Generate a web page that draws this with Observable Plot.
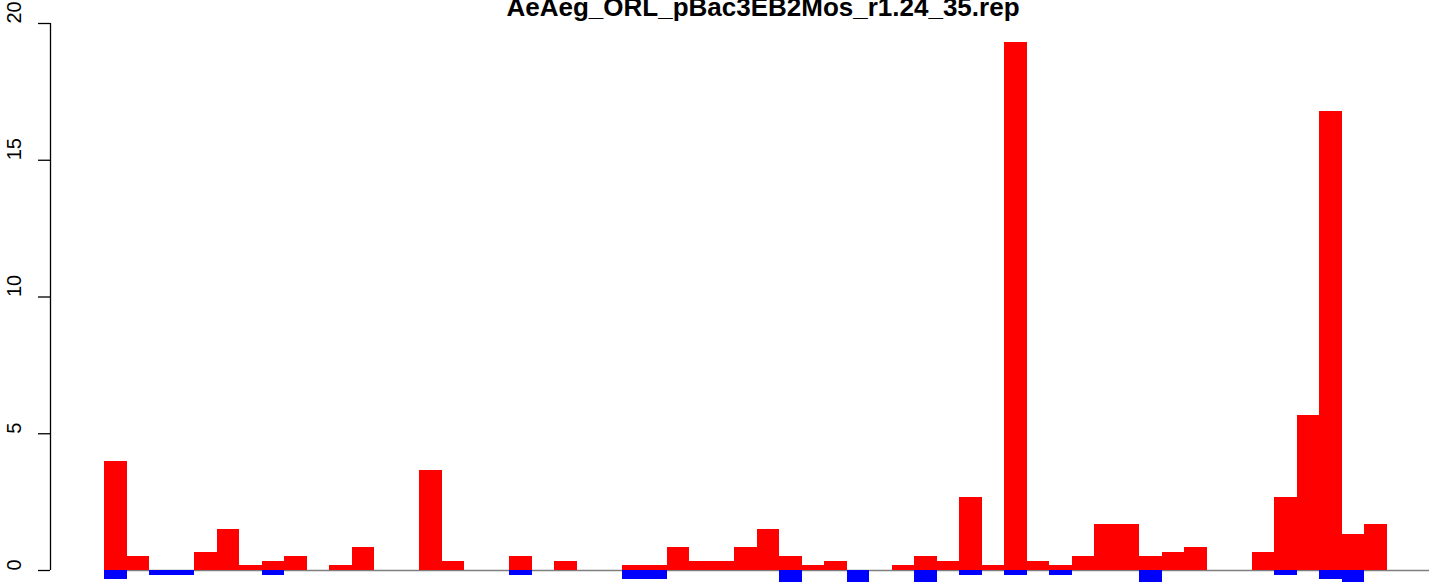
<!DOCTYPE html>
<html><head><meta charset="utf-8">
<script src="https://cdn.jsdelivr.net/npm/d3@7"></script>
<script src="https://cdn.jsdelivr.net/npm/@observablehq/plot@0.6"></script>
<style>body{margin:0;background:#fff} svg{display:block}</style>
</head><body><div id="chart"></div>
<script>
const title = "AeAeg_ORL_pBac3EB2Mos_r1.24_35.rep";
const positive = [4.0, 0.5, 0, 0, 0.67, 1.5, 0.17, 0.33, 0.5, 0,
  0.17, 0.83, 0, 0, 3.67, 0.33, 0, 0, 0.5, 0,
  0.33, 0, 0, 0.17, 0.17, 0.83, 0.33, 0.33, 0.83, 1.5,
  0.5, 0.17, 0.33, 0, 0, 0.17, 0.5, 0.33, 2.67, 0.17,
  19.3, 0.33, 0.17, 0.5, 1.67, 1.67, 0.5, 0.67, 0.83, 0,
  0, 0.67, 2.67, 5.67, 16.8, 1.33, 1.67];
const negative = [-0.33, 0, -0.17, -0.17, 0, 0, 0, -0.17, 0, 0,
  0, 0, 0, 0, 0, 0, 0, 0, -0.17, 0,
  0, 0, 0, -0.33, -0.33, 0, 0, 0, 0, 0,
  -0.5, 0, 0, -0.5, 0, 0, -0.5, 0, -0.17, 0,
  -0.17, 0, -0.17, 0, 0, 0, -0.5, 0, 0, 0,
  0, 0, -0.17, 0, -0.33, -0.5, 0];
const yTicks = [0, 5, 10, 15, 20];
const xlim = [-2.4, 59.4];

const bars = positive.map((v, i) => ({i, pos: v, neg: negative[i]}));

const chart = Plot.plot({
  width: 1429, height: 582,
  marginLeft: 50, marginTop: 0, marginRight: 0, marginBottom: 0,
  x: {type: "linear", domain: xlim, range: [50, 50 + (xlim[1] - xlim[0]) * 22.5], axis: null},
  y: {domain: [0, 20], range: [570, 23], axis: null},
  style: {background: "#fff", fontFamily: "'Liberation Sans', Arial, Helvetica, sans-serif", overflow: "visible"},
  marks: [
    Plot.ruleY([0], {x1: 0, x2: xlim[1], stroke: "#7f7f7f", strokeWidth: 1.6}),
    Plot.rectY(bars.filter(d => d.neg < 0), {x1: "i", x2: d => d.i + 1, y1: 0, y2: "neg", fill: "#0000ff", shapeRendering: "crispEdges"}),
    Plot.rectY(bars.filter(d => d.pos > 0), {x1: "i", x2: d => d.i + 1, y1: 0, y2: "pos", fill: "#ff0000", shapeRendering: "crispEdges"}),
    Plot.ruleX([xlim[0]], {y1: yTicks[0], y2: yTicks[yTicks.length - 1], stroke: "black", strokeWidth: 1.3}),
    Plot.axisY(yTicks, {anchor: "left", tickSize: 12, tickFormat: () => "", stroke: "black", strokeWidth: 1.3, strokeOpacity: 1}),
    Plot.text(yTicks, {y: d => d, frameAnchor: "left", dx: -36, rotate: -90, text: d => String(d), fontSize: 20, fill: "black"}),
    Plot.text([title], {frameAnchor: "top-left", text: d => d, dx: 456, dy: 15, lineAnchor: "bottom", textAnchor: "start", fontSize: 26, fontWeight: "bold", fill: "black"})
  ]
});
document.getElementById("chart").appendChild(chart);
</script>
</body></html>
